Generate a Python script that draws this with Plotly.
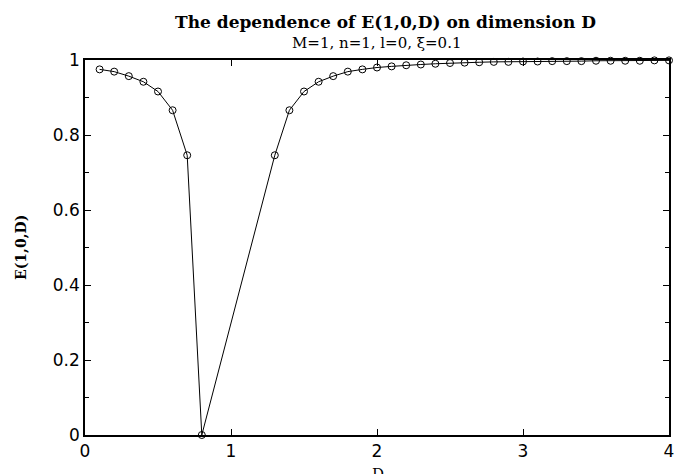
import plotly.graph_objects as go

D = [0.1, 0.2, 0.3, 0.4, 0.5, 0.6, 0.7, 0.8,
     1.3, 1.4, 1.5, 1.6, 1.7, 1.8, 1.9, 2.0, 2.1, 2.2, 2.3, 2.4, 2.5, 2.6, 2.7, 2.8,
     2.9, 3.0, 3.1, 3.2, 3.3, 3.4, 3.5, 3.6, 3.7, 3.8, 3.9, 4.0]
E = [0.975, 0.969, 0.957, 0.942, 0.916, 0.866, 0.746, 0.0,
     0.746, 0.866, 0.916, 0.942, 0.957, 0.969, 0.975, 0.980, 0.983, 0.986, 0.988, 0.990,
     0.992, 0.993, 0.994, 0.995, 0.995, 0.996, 0.996, 0.997, 0.997, 0.997, 0.998, 0.998,
     0.998, 0.998, 0.999, 0.999]

title_text = "The dependence of E(1,0,D) on dimension D"
subtitle_text = "M=1, n=1, l=0, ξ=0.1"
x_title = "D"
y_title = "E(1,0,D)"
x_ticks = [0, 1, 2, 3, 4]
y_ticks = [0, 0.2, 0.4, 0.6, 0.8, 1]
y_ticklabels = ["0", "0.2", "0.4", "0.6", "0.8", "1"]

fig = go.Figure()
fig.add_trace(go.Scatter(
    x=D, y=E, mode="lines+markers",
    line=dict(color="black", width=1),
    marker=dict(symbol="circle-open", size=7, color="black", line=dict(width=1)),
    showlegend=False, cliponaxis=False,
))

serif = "DejaVu Serif, serif"
sans = "DejaVu Sans, sans-serif"

W, H = 674, 474
l, r, t, b = 85, 5, 60, 39

fig.update_layout(
    width=W, height=H,
    margin=dict(l=l, r=r, t=t, b=b, autoexpand=False),
    paper_bgcolor="white", plot_bgcolor="white",
    font=dict(family=sans, color="black", size=16),
    xaxis=dict(
        range=[0, 4], tickvals=x_ticks, ticktext=[str(v) for v in x_ticks],
        ticks="inside", ticklen=6, tickwidth=1, tickcolor="black",
        showline=True, linecolor="black", linewidth=1.5, mirror="allticks",
        showgrid=False, zeroline=False, automargin=False,
        ticklabeloverflow="allow",
        tickfont=dict(family=sans, size=17),
    ),
    yaxis=dict(
        range=[0, 1], tickvals=y_ticks, ticktext=y_ticklabels,
        ticks="inside", ticklen=6, tickwidth=1, tickcolor="black",
        minor=dict(ticks="inside", dtick=0.1, ticklen=4, tickcolor="black", tickwidth=1),
        showline=True, linecolor="black", linewidth=1.5, mirror="allticks",
        showgrid=False, zeroline=False, automargin=False,
        ticklabeloverflow="allow",
        tickfont=dict(family=sans, size=17),
    ),
    annotations=[
        dict(text="<b>" + title_text + "</b>", x=385, y=22, xref="paper", yref="paper",
             showarrow=False, font=dict(family=serif, size=17)),
        dict(text=subtitle_text, x=376, y=43, xref="paper", yref="paper",
             showarrow=False, font=dict(family=serif, size=15)),
        dict(text="<b>" + y_title + "</b>", x=21, y=248, textangle=-90,
             xref="paper", yref="paper", showarrow=False, font=dict(family=serif, size=14)),
        dict(text=x_title, x=378, y=474, xref="paper", yref="paper",
             showarrow=False, font=dict(family=serif, size=15)),
    ],
)

# convert pixel annotation positions to paper coords
pw, ph = W - l - r, H - t - b
for a in fig.layout.annotations:
    px, py = a.x, a.y
    a.x = (px - l) / pw
    a.y = (H - b - py) / ph
    a.xanchor = "center"
    a.yanchor = "middle"

fig.write_html("out.html", config={"displayModeBar": False},
               post_script="document.body.style.margin='0';document.body.style.overflow='hidden';")
